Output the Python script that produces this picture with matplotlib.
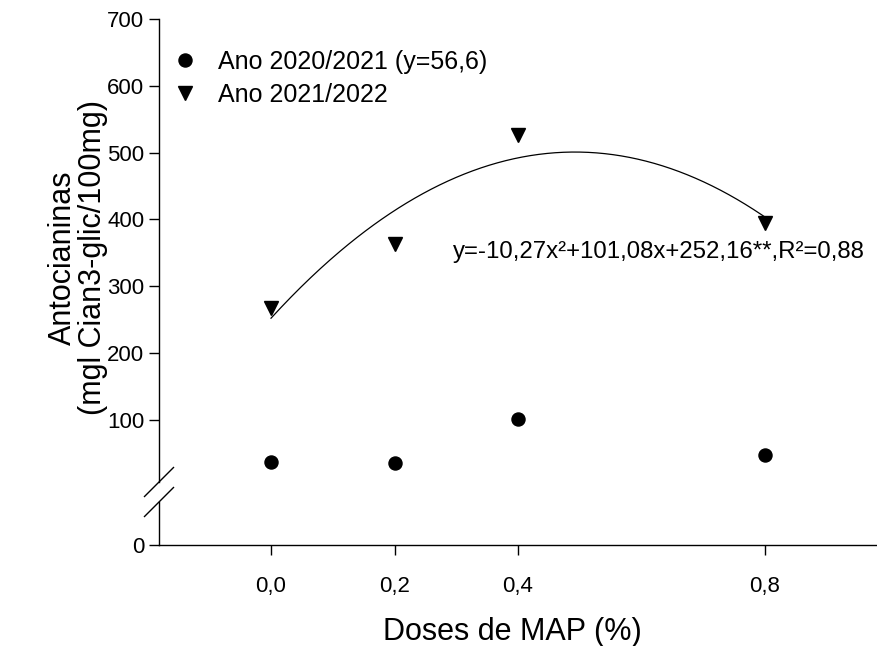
import numpy as np
import matplotlib
matplotlib.use("Agg")
import matplotlib.pyplot as plt
from matplotlib.lines import Line2D

plt.rcParams['font.family'] = ['Liberation Sans', 'DejaVu Sans']

# ---- data ----
doses = [0.0, 0.2, 0.4, 0.8]
dose_labels = ["0,0", "0,2", "0,4", "0,8"]
ano_2020_2021 = [37, 36, 101, 47]
ano_2021_2022 = [268, 363, 527, 395]
fit_coef = [-10.27, 101.08, 252.16]   # x expressed in tenths of %
legend_labels = ["Ano 2020/2021 (y=56,6)", "Ano 2021/2022"]
equation_text = "y=-10,27x²+101,08x+252,16**,R²=0,88"
y_ticks_upper = [100, 200, 300, 400, 500, 600, 700]
y_ticks_lower = [0]

W, H = 878, 646
fig = plt.figure(figsize=(W / 100, H / 100), dpi=100)

left = 159 / W
width = 1.0 - left
ax_up = fig.add_axes([left, 1 - 482 / H, width, (482 - 19) / H])
ax_lo = fig.add_axes([left, 1 - 545 / H, width, (545 - 502) / H])

xlim = (-0.1814, 0.983)
for ax in (ax_up, ax_lo):
    ax.set_xlim(*xlim)
    ax.spines['top'].set_visible(False)
    ax.spines['right'].set_visible(False)
    for s in ax.spines.values():
        s.set_linewidth(1.0)
    ax.tick_params(direction='out', length=7, width=1.0, labelsize=16, pad=3.5)

ax_up.set_ylim(7, 700)
ax_up.spines['bottom'].set_visible(False)
ax_up.set_yticks(y_ticks_upper)
ax_up.set_xticks([])

ax_lo.set_ylim(0, 60)
ax_lo.set_yticks(y_ticks_lower)
ax_lo.set_xticks(doses)
ax_lo.set_xticklabels(dose_labels)
ax_lo.tick_params(axis='x', pad=15)

# data
ax_up.plot(doses, ano_2020_2021, 'o', color='black', ms=9.4, clip_on=False)
ax_up.plot(doses, ano_2021_2022, 'v', color='black', ms=10.5, clip_on=False)

xf = np.linspace(min(doses), max(doses), 300)
yf = np.polyval(fit_coef, xf * 10)
ax_up.plot(xf, yf, color='black', lw=0.9)

ax_up.text(0.295, 352, equation_text, fontsize=17.3, va='center', ha='left')

# legend
fs_leg = 18
handles = [Line2D([], [], marker='o', ls='none', color='black', ms=9.4),
           Line2D([], [], marker='v', ls='none', color='black', ms=10.5)]
leg = ax_up.legend(handles, legend_labels, loc='upper left',
                   bbox_to_anchor=(173 / W, 1 - 50 / H), bbox_transform=fig.transFigure,
                   frameon=False, fontsize=fs_leg, handlelength=0.95, handletextpad=0.85,
                   labelspacing=0.34, borderpad=0, borderaxespad=0)

# axis break marks
d = 14.5
for ax, yend in ((ax_up, 0), (ax_lo, 1)):
    tr = ax.transAxes
    hx = d / (W * width)
    hy = d / (H * ax.get_position().height)
    ax.plot([-hx, hx], [yend - hy, yend + hy], transform=tr, color='black',
            lw=1.0, clip_on=False)

fig.text(78 / W, 1 - 258 / H, "Antocianinas\n(mgl Cian3-glic/100mg)",
         rotation=90, ha='center', va='center', fontsize=22,
         multialignment='center', linespacing=1.0)
fig.text(512 / W, 1 - 632 / H, "Doses de MAP (%)",
         ha='center', va='center', fontsize=22)

fig.savefig("out.png", dpi=100)
